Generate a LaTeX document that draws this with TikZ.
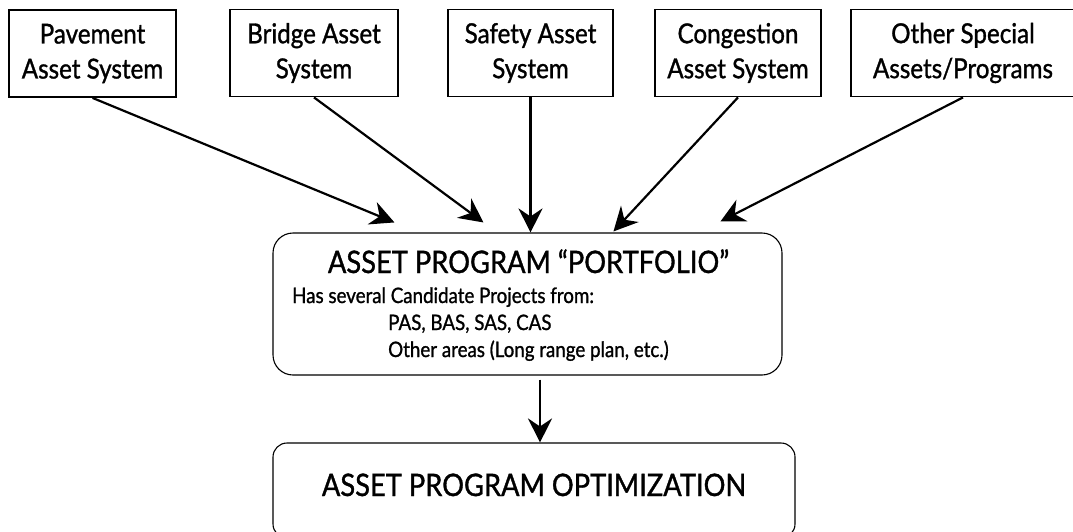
\documentclass[tikz,border=0pt]{standalone}
\usepackage{fontspec}
\setmainfont[FakeStretch=0.88,FakeBold=1.1]{Lato}
\usetikzlibrary{arrows.meta,calc}

\begin{document}
\begin{tikzpicture}[x=1pt,y=-1pt,
  sysbox/.style={draw=black,line width=1.8pt,minimum height=87pt,
    inner sep=0pt,align=center,font=\fontsize{27.5}{35}\selectfont},
  roundbox/.style={draw=black,line width=1.1pt,inner sep=0pt},
  bigtext/.style={inner sep=0pt,anchor=base,font=\fontsize{31}{38}\selectfont},
  smalltext/.style={inner sep=0pt,anchor=base west,font=\fontsize{21.3}{26}\selectfont},
  feed/.style={line width=2.2pt,-{Stealth[length=24pt,width=24pt,inset=8pt]}}]

% canvas
\path[fill=white] (0,0) rectangle (1073,531);
\useasboundingbox (0,0) rectangle (1073,531);

% source systems
\node[sysbox,minimum width=167pt] (pav)  at (92.5,53.5) {Pavement\\Asset System};
\node[sysbox,minimum width=168pt] (brg)  at (314,53)    {Bridge Asset\\System};
\node[sysbox,minimum width=165pt] (saf)  at (530.5,53)  {Safety Asset\\System};
\node[sysbox,minimum width=166pt] (cong) at (738,53)    {Congestion\\Asset System};
\node[sysbox,minimum width=224pt] (oth)  at (963,53)    {Other Special\\Assets/Programs};

% portfolio
\node[roundbox,rounded corners=20pt,minimum width=509pt,minimum height=142pt]
  (pf) at (527.5,304) {};
\node[bigtext] (pftitle) at (528.5,273) {ASSET PROGRAM “PORTFOLIO”};
\node[smalltext] (pfl1) at (292,303) {Has several Candidate Projects from:};
\node[smalltext] (pfl2) at (388,330) {PAS, BAS, SAS, CAS};
\node[smalltext] (pfl3) at (388,357) {Other areas (Long range plan, etc.)};

% optimization
\node[roundbox,rounded corners=14pt,minimum width=522pt,minimum height=95pt]
  (opt) at (534,490.5) {};
\node[bigtext] (opttitle) at (534,496) {ASSET PROGRAM OPTIMIZATION};

% arrow end points on the portfolio
\coordinate (in1) at ($(pf.north west)+(122,-10)$);
\coordinate (in2) at ($(pf.north west)+(211,-10)$);
\coordinate (in4) at ($(pf.north west)+(341,-1)$);
\coordinate (in5) at ($(pf.north west)+(448,-11)$);
\coordinate (outpf) at ($(pf.south)+(12.5,4)$);

% connectors
\draw[feed] (pav.south) -- (in1);
\draw[feed] (brg.south) -- (in2);
\draw[feed] (saf.south) -- (saf.south |- pf.north);
\draw[feed] (cong.south) -- (in4);
\draw[feed] (oth.south) -- (in5);
\draw[feed] (outpf) -- (outpf |- opt.north);
\end{tikzpicture}
\end{document}
